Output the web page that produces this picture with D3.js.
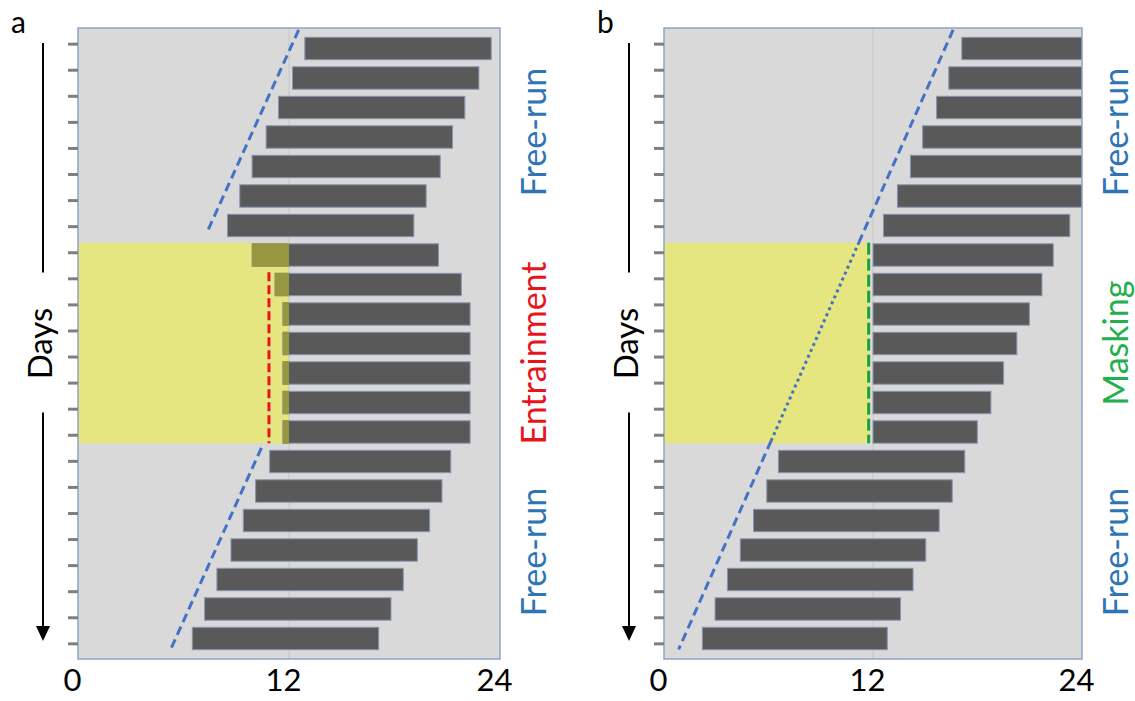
<!DOCTYPE html>
<html>
<head>
<meta charset="utf-8">
<script src="https://cdn.jsdelivr.net/npm/d3@7"></script>
<style>
  body { margin: 0; background: #fff; }
  svg { display: block; font-family: Lato, "Open Sans", sans-serif; }
</style>
</head>
<body>
<svg></svg>
<script>
// clock hours on the x axis
var hourTicks = [0, 12, 24];
// one row per day, top to bottom
var days = [1, 2, 3, 4, 5, 6, 7, 8, 9, 10, 11, 12, 13, 14, 15, 16, 17, 18, 19, 20, 21];
// small tick marks on the left edge
var dayTicks = [1, 2, 3, 4, 5, 6, 7, 8, 9, 10, 11, 12, 13, 14, 15, 16, 17, 18, 19, 20, 21, 22, 23, 24];

// panel a: activity onset / offset (h)
var onsetA = [12.9, 12.2, 11.4, 10.7, 9.9, 9.2, 8.5, 9.9, 11.2, 11.65, 11.65, 11.65, 11.65, 11.65, 10.9, 10.1, 9.4, 8.7, 7.9, 7.2, 6.5];
var offsetA = [23.5, 22.8, 22.0, 21.3, 20.6, 19.8, 19.1, 20.5, 21.8, 22.3, 22.3, 22.3, 22.3, 22.3, 21.2, 20.7, 20.0, 19.3, 18.5, 17.8, 17.1];

// panel b: activity onset / offset (h), onsets held at 12 while masked
var onsetB = [17.1, 16.35, 15.65, 14.85, 14.15, 13.4, 12.6, 12.0, 12.0, 12.0, 12.0, 12.0, 12.0, 12.0, 6.57, 5.9, 5.14, 4.38, 3.64, 2.93, 2.2];
var offsetB = [27.8, 27.0, 26.3, 25.6, 24.8, 24.1, 23.3, 22.35, 21.7, 20.98, 20.26, 19.5, 18.77, 17.99, 17.27, 16.55, 15.8, 15.03, 14.3, 13.58, 12.82];

// light schedule: first and last day, start and end hour
var lightDays = [8, 14];
var lightA = [0, 12];
var lightB = [0, 11.8];

// free-run guide lines, points as [day, hour]
var guideA1 = [[0.37, 12.55], [7.15, 7.4]];
var guideA2 = [[14.54, 10.43], [21.37, 5.27]];
var guideB1 = [[0.37, 16.6], [7.56, 11.2]];
var guideB2 = [[7.56, 11.2], [14.3, 6.15]];
var guideB3 = [[14.3, 6.15], [21.37, 0.84]];

var draw = function() {
	var plotTop = 28, plotBottom = 659;

	var svg = d3.select("svg")
		.attr("width", 1135)
		.attr("height", 701);

	var yBand = d3.scaleBand()
		.domain(days)
		.range([plotTop, plotBottom])
		.paddingInner(0.24)
		.paddingOuter(0.315);
	var bw = yBand.bandwidth();

	var yDay = d3.scaleLinear()
		.domain([1, 21])
		.range([yBand(1) + bw / 2, yBand(21) + bw / 2]);

	var yTick = d3.scalePoint()
		.domain(dayTicks)
		.range([plotTop, plotBottom])
		.padding(0.6);

	var panels = [
		{
			id: "a", left: 78, right: 500,
			onset: onsetA, offset: offsetA, light: lightA,
			guides: [{ pts: guideA1, dash: "9,5" }, { pts: guideA2, dash: "9,5" }],
			marker: { hour: 10.86, fromDay: 9, color: "#e8141c", dash: "9,4" },
			labels: [
				{ text: "Free-run", color: "#2e75b6", y: 132 },
				{ text: "Entrainment", color: "#e8141c", y: 353 },
				{ text: "Free-run", color: "#2e75b6", y: 552 }
			]
		},
		{
			id: "b", left: 664, right: 1082,
			onset: onsetB, offset: offsetB, light: lightB,
			guides: [{ pts: guideB1, dash: "9,5" }, { pts: guideB2, dash: "3,3.5" }, { pts: guideB3, dash: "9,5" }],
			marker: { hour: 11.75, fromDay: 8, color: "#1aa33c", dash: "12,4" },
			labels: [
				{ text: "Free-run", color: "#2e75b6", y: 132 },
				{ text: "Masking", color: "#21b04b", y: 343 },
				{ text: "Free-run", color: "#2e75b6", y: 552 }
			]
		}
	];

	panels.forEach(function(p) {
		var x = d3.scaleLinear().domain([0, 24]).range([p.left, p.right]);
		var g = svg.append("g");

		// plot background
		g.append("rect")
			.attr("x", p.left).attr("y", plotTop)
			.attr("width", p.right - p.left).attr("height", plotBottom - plotTop)
			.attr("fill", "#d9d9d9");

		g.append("clipPath").attr("id", "clip-" + p.id)
			.append("rect")
			.attr("x", p.left).attr("y", plotTop)
			.attr("width", p.right - p.left).attr("height", plotBottom - plotTop);

		// light period
		var ly0 = yBand(lightDays[0]) - 1,
			ly1 = yBand(lightDays[1]) + bw;
		g.append("rect")
			.attr("x", x(p.light[0])).attr("y", ly0)
			.attr("width", x(p.light[1]) - x(p.light[0]))
			.attr("height", ly1 - ly0)
			.attr("fill", "#e6e681");

		// 12 h gridline
		g.append("line")
			.attr("x1", x(12)).attr("x2", x(12))
			.attr("y1", plotTop).attr("y2", plotBottom)
			.attr("stroke", "#c6c6c6").attr("stroke-width", 1);

		// activity bars
		var rows = days.map(function(d, i) {
			return { day: d, on: p.onset[i], off: p.offset[i] };
		});
		var bars = g.append("g").attr("clip-path", "url(#clip-" + p.id + ")");
		bars.selectAll("rect.bar")
			.data(rows)
			.enter()
			.append("rect")
			.attr("class", "bar")
			.attr("x", function(d) { return x(d.on); })
			.attr("y", function(d) { return yBand(d.day); })
			.attr("width", function(d) { return x(d.off) - x(d.on); })
			.attr("height", bw)
			.attr("fill", "#595959")
			.attr("stroke", "#8797b3")
			.attr("stroke-width", 1);

		// activity during light shows olive
		var overlap = rows.filter(function(d) {
			return d.day >= lightDays[0] && d.day <= lightDays[1] && d.on < p.light[1];
		});
		bars.selectAll("rect.lit")
			.data(overlap)
			.enter()
			.append("rect")
			.attr("class", "lit")
			.attr("x", function(d) { return x(d.on); })
			.attr("y", function(d) { return yBand(d.day) - 0.5; })
			.attr("width", function(d) { return x(p.light[1]) - x(d.on); })
			.attr("height", bw + 1)
			.attr("fill", "#979741");

		// free-run guides
		var line = d3.line()
			.x(function(d) { return x(d[1]); })
			.y(function(d) { return yDay(d[0]); });
		p.guides.forEach(function(gd) {
			g.append("path")
				.attr("d", line(gd.pts))
				.attr("fill", "none")
				.attr("stroke", "#4472c4")
				.attr("stroke-width", 3)
				.attr("stroke-dasharray", gd.dash);
		});

		// phase marker
		g.append("line")
			.attr("x1", x(p.marker.hour)).attr("x2", x(p.marker.hour))
			.attr("y1", yBand(p.marker.fromDay) - 1).attr("y2", ly1)
			.attr("stroke", p.marker.color)
			.attr("stroke-width", 3)
			.attr("stroke-dasharray", p.marker.dash);

		// frame
		g.append("rect")
			.attr("x", p.left).attr("y", plotTop)
			.attr("width", p.right - p.left).attr("height", plotBottom - plotTop)
			.attr("fill", "none")
			.attr("stroke", "#8fa2c6").attr("stroke-width", 1.5);

		// left tick marks
		var ly = g.append("g")
			.attr("transform", "translate(" + p.left + ",0)")
			.call(d3.axisLeft(yTick).tickSize(10).tickFormat(""));
		ly.select(".domain").remove();
		ly.selectAll("line").attr("stroke", "#7f7f7f").attr("stroke-width", 3);

		// hour axis
		var ax = g.append("g")
			.attr("transform", "translate(0," + plotBottom + ")")
			.call(d3.axisBottom(x).tickValues(hourTicks).tickSize(0).tickPadding(10));
		ax.select(".domain").remove();
		ax.selectAll("text")
			.attr("dx", -6)
			.attr("fill", "#000")
			.style("font-size", "31px")
			.style("font-family", "Lato, 'Open Sans', sans-serif");

		// Days arrow
		var axX = p.left - 35, mid = (plotTop + plotBottom) / 2;
		g.append("line")
			.attr("x1", axX).attr("x2", axX)
			.attr("y1", 43).attr("y2", mid - 71)
			.attr("stroke", "#000").attr("stroke-width", 2);
		g.append("line")
			.attr("x1", axX).attr("x2", axX)
			.attr("y1", mid + 69).attr("y2", 630)
			.attr("stroke", "#000").attr("stroke-width", 2);
		g.append("path")
			.attr("d", "M" + (axX - 7) + ",626L" + (axX + 7) + ",626L" + axX + ",641Z")
			.attr("fill", "#000");
		g.append("text")
			.attr("transform", "translate(" + (p.left - 26) + "," + mid + ") rotate(-90)")
			.attr("text-anchor", "middle")
			.style("font-size", "33px")
			.attr("fill", "#000")
			.text("Days");

		// phase labels
		p.labels.forEach(function(l) {
			g.append("text")
				.attr("transform", "translate(" + (p.right + 46) + "," + l.y + ") rotate(-90)")
				.attr("text-anchor", "middle")
				.style("font-size", "34px")
				.attr("fill", l.color)
				.text(l.text);
		});

		// panel letter
		g.append("text")
			.attr("x", p.left - 67).attr("y", 33)
			.style("font-size", "30px")
			.attr("fill", "#000")
			.text(p.id);
	});
};

draw();
</script>
</body>
</html>
